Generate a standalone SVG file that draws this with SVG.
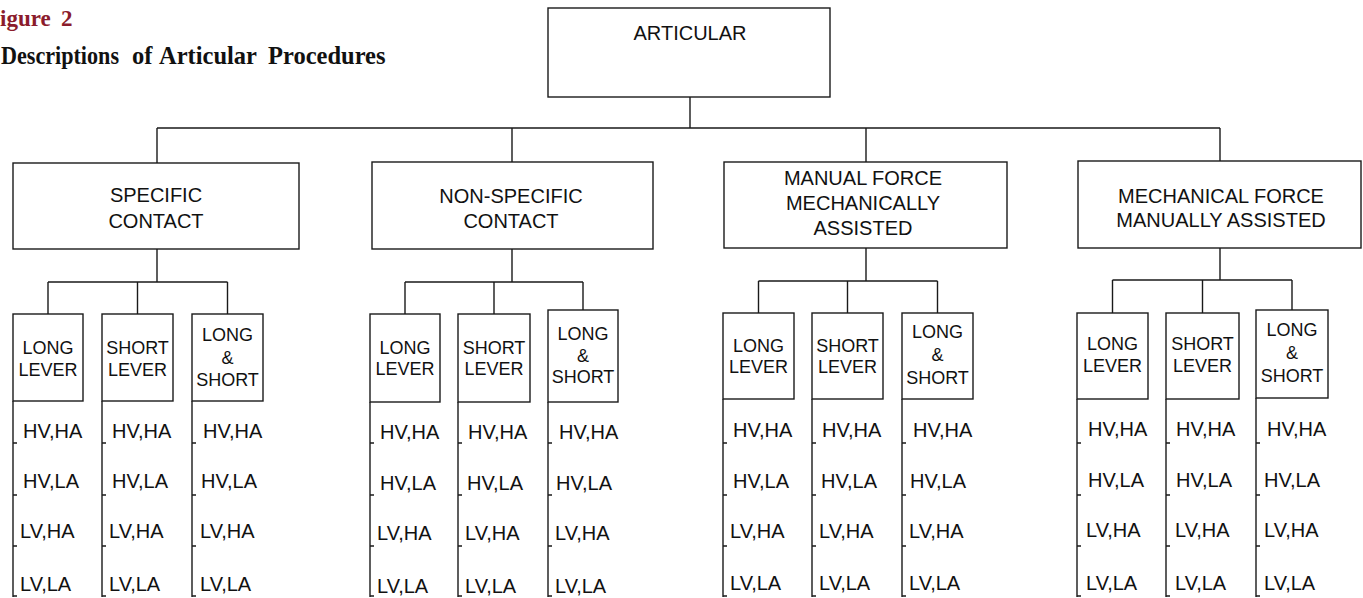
<svg xmlns="http://www.w3.org/2000/svg" width="1363" height="598" viewBox="0 0 1363 598">
<style>
.bx{fill:#fff;stroke:#1a1a1a;stroke-width:1.4}
.ln{fill:none;stroke:#1a1a1a;stroke-width:1.4}
.t{font-family:"Liberation Sans",Arial,sans-serif;font-size:20px;fill:#111;text-anchor:middle}
.st{font-family:"Liberation Sans",Arial,sans-serif;font-size:18px;fill:#111;text-anchor:middle}
.lt{font-family:"Liberation Sans",Arial,sans-serif;font-size:20px;fill:#111}
.ttl{font-family:"Liberation Serif","Times New Roman",serif;font-weight:bold}
</style>
<rect width="1363" height="598" fill="#fff"/>
<g id="title">
<text class="ttl" x="0" y="26" font-size="23" fill="#8b1c2c">igure<tspan x="61">2</tspan></text>
<text class="ttl" y="64" font-size="24.5" fill="#111"><tspan x="1" textLength="118" lengthAdjust="spacingAndGlyphs">Descriptions</tspan><tspan x="132">of</tspan><tspan x="159">Articular</tspan><tspan x="268">Procedures</tspan></text>
</g>
<g id="connectors" class="ln">
<path d="M690,97V128M157,128H1220M157,128V163M512,128V162M866,128V162M1220,128V161"/>
<path d="M157,249V282M48,282H227.5M48,282V314M137.5,282V314M227.5,282V314"/>
<path d="M512,249V282M405,282H583M405,282V314M494,282V314M583,282V310"/>
<path d="M866,248V281M758.5,281H937.5M758.5,281V313M847.5,281V313M937.5,281V313"/>
<path d="M1220,248V280M1112.5,280H1292M1112.5,280V313M1202.5,280V313M1292,280V310"/>
</g>
<g id="n-articular"><rect class="bx" x="548" y="8" width="282" height="89"/><text class="t" x="690" y="40">ARTICULAR</text></g>
<g id="n-specific"><rect class="bx" x="13" y="163" width="286" height="86"/><text class="t" x="156" y="202">SPECIFIC</text><text class="t" x="156" y="228">CONTACT</text></g>
<g id="n-nonspecific"><rect class="bx" x="372" y="162" width="281" height="87"/><text class="t" x="511" y="203">NON-SPECIFIC</text><text class="t" x="511" y="228">CONTACT</text></g>
<g id="n-manual"><rect class="bx" x="724" y="162" width="283" height="86"/><text class="t" x="863" y="185">MANUAL FORCE</text><text class="t" x="863" y="210">MECHANICALLY</text><text class="t" x="863" y="235">ASSISTED</text></g>
<g id="n-mechanical"><rect class="bx" x="1078" y="161" width="283" height="87"/><text class="t" x="1221" y="203">MECHANICAL FORCE</text><text class="t" x="1221" y="227">MANUALLY ASSISTED</text></g>

<g id="g1-long"><rect class="bx" x="13" y="314" width="70" height="87"/><text class="st" x="48" y="354">LONG</text><text class="st" x="48" y="376">LEVER</text>
<path class="ln" d="M13,401V597M13,443h4M13,495h4M13,546h4M13,596h4"/>
<text class="lt" x="23" y="438">HV,HA</text><text class="lt" x="23" y="488">HV,LA</text><text class="lt" x="20" y="538">LV,HA</text><text class="lt" x="20" y="591">LV,LA</text></g>
<g id="g1-short"><rect class="bx" x="102" y="314" width="71" height="87"/><text class="st" x="137.5" y="354">SHORT</text><text class="st" x="137.5" y="376">LEVER</text>
<path class="ln" d="M102,401V597M102,443h4M102,495h4M102,546h4M102,596h4"/>
<text class="lt" x="112" y="438">HV,HA</text><text class="lt" x="112" y="488">HV,LA</text><text class="lt" x="109" y="538">LV,HA</text><text class="lt" x="109" y="591">LV,LA</text></g>
<g id="g1-both"><rect class="bx" x="192" y="314" width="71" height="87"/><text class="st" x="227.5" y="341">LONG</text><text class="st" x="227.5" y="364">&amp;</text><text class="st" x="227.5" y="386">SHORT</text>
<path class="ln" d="M192,401V597M192,443h4M192,495h4M192,546h4M192,596h4"/>
<text class="lt" x="203" y="438">HV,HA</text><text class="lt" x="201" y="488">HV,LA</text><text class="lt" x="200" y="538">LV,HA</text><text class="lt" x="200" y="591">LV,LA</text></g>

<g id="g2-long"><rect class="bx" x="370" y="314" width="70" height="88"/><text class="st" x="405" y="354">LONG</text><text class="st" x="405" y="375">LEVER</text>
<path class="ln" d="M370,402V597M370,443h4M370,495h4M370,546h4M370,596h4"/>
<text class="lt" x="380" y="439">HV,HA</text><text class="lt" x="380" y="490">HV,LA</text><text class="lt" x="377" y="540">LV,HA</text><text class="lt" x="377" y="593">LV,LA</text></g>
<g id="g2-short"><rect class="bx" x="458" y="314" width="72" height="88"/><text class="st" x="494" y="354">SHORT</text><text class="st" x="494" y="375">LEVER</text>
<path class="ln" d="M458,402V597M458,443h4M458,495h4M458,546h4M458,596h4"/>
<text class="lt" x="468" y="439">HV,HA</text><text class="lt" x="467" y="490">HV,LA</text><text class="lt" x="465" y="540">LV,HA</text><text class="lt" x="465" y="593">LV,LA</text></g>
<g id="g2-both"><rect class="bx" x="548" y="310" width="70" height="92"/><text class="st" x="583" y="340">LONG</text><text class="st" x="583" y="362">&amp;</text><text class="st" x="583" y="383">SHORT</text>
<path class="ln" d="M548,402V597M548,443h4M548,495h4M548,546h4M548,596h4"/>
<text class="lt" x="559" y="439">HV,HA</text><text class="lt" x="556" y="490">HV,LA</text><text class="lt" x="555" y="540">LV,HA</text><text class="lt" x="555" y="593">LV,LA</text></g>

<g id="g3-long"><rect class="bx" x="723" y="313" width="71" height="86"/><text class="st" x="758.5" y="352">LONG</text><text class="st" x="758.5" y="373">LEVER</text>
<path class="ln" d="M723,399V597M723,443h4M723,495h4M723,546h4M723,596h4"/>
<text class="lt" x="733" y="437">HV,HA</text><text class="lt" x="733" y="488">HV,LA</text><text class="lt" x="730" y="538">LV,HA</text><text class="lt" x="730" y="590">LV,LA</text></g>
<g id="g3-short"><rect class="bx" x="812" y="313" width="71" height="86"/><text class="st" x="847.5" y="352">SHORT</text><text class="st" x="847.5" y="373">LEVER</text>
<path class="ln" d="M812,399V597M812,443h4M812,495h4M812,546h4M812,596h4"/>
<text class="lt" x="822" y="437">HV,HA</text><text class="lt" x="821" y="488">HV,LA</text><text class="lt" x="819" y="538">LV,HA</text><text class="lt" x="819" y="590">LV,LA</text></g>
<g id="g3-both"><rect class="bx" x="902" y="313" width="71" height="86"/><text class="st" x="937.5" y="338">LONG</text><text class="st" x="937.5" y="361">&amp;</text><text class="st" x="937.5" y="384">SHORT</text>
<path class="ln" d="M902,399V597M902,443h4M902,495h4M902,546h4M902,596h4"/>
<text class="lt" x="913" y="437">HV,HA</text><text class="lt" x="910" y="488">HV,LA</text><text class="lt" x="909" y="538">LV,HA</text><text class="lt" x="909" y="590">LV,LA</text></g>

<g id="g4-long"><rect class="bx" x="1077" y="313" width="71" height="86"/><text class="st" x="1112.5" y="350">LONG</text><text class="st" x="1112.5" y="372">LEVER</text>
<path class="ln" d="M1077,399V597M1077,443h4M1077,495h4M1077,546h4M1077,596h4"/>
<text class="lt" x="1088" y="436">HV,HA</text><text class="lt" x="1088" y="487">HV,LA</text><text class="lt" x="1086" y="537">LV,HA</text><text class="lt" x="1086" y="590">LV,LA</text></g>
<g id="g4-short"><rect class="bx" x="1166" y="313" width="73" height="86"/><text class="st" x="1202.5" y="350">SHORT</text><text class="st" x="1202.5" y="372">LEVER</text>
<path class="ln" d="M1166,399V597M1166,443h4M1166,495h4M1166,546h4M1166,596h4"/>
<text class="lt" x="1176" y="436">HV,HA</text><text class="lt" x="1176" y="487">HV,LA</text><text class="lt" x="1175" y="537">LV,HA</text><text class="lt" x="1175" y="590">LV,LA</text></g>
<g id="g4-both"><rect class="bx" x="1256" y="310" width="72" height="88"/><text class="st" x="1292" y="336">LONG</text><text class="st" x="1292" y="359">&amp;</text><text class="st" x="1292" y="382">SHORT</text>
<path class="ln" d="M1256,398V597M1256,443h4M1256,495h4M1256,546h4M1256,596h4"/>
<text class="lt" x="1267" y="436">HV,HA</text><text class="lt" x="1264" y="487">HV,LA</text><text class="lt" x="1264" y="537">LV,HA</text><text class="lt" x="1264" y="590">LV,LA</text></g>
</svg>
